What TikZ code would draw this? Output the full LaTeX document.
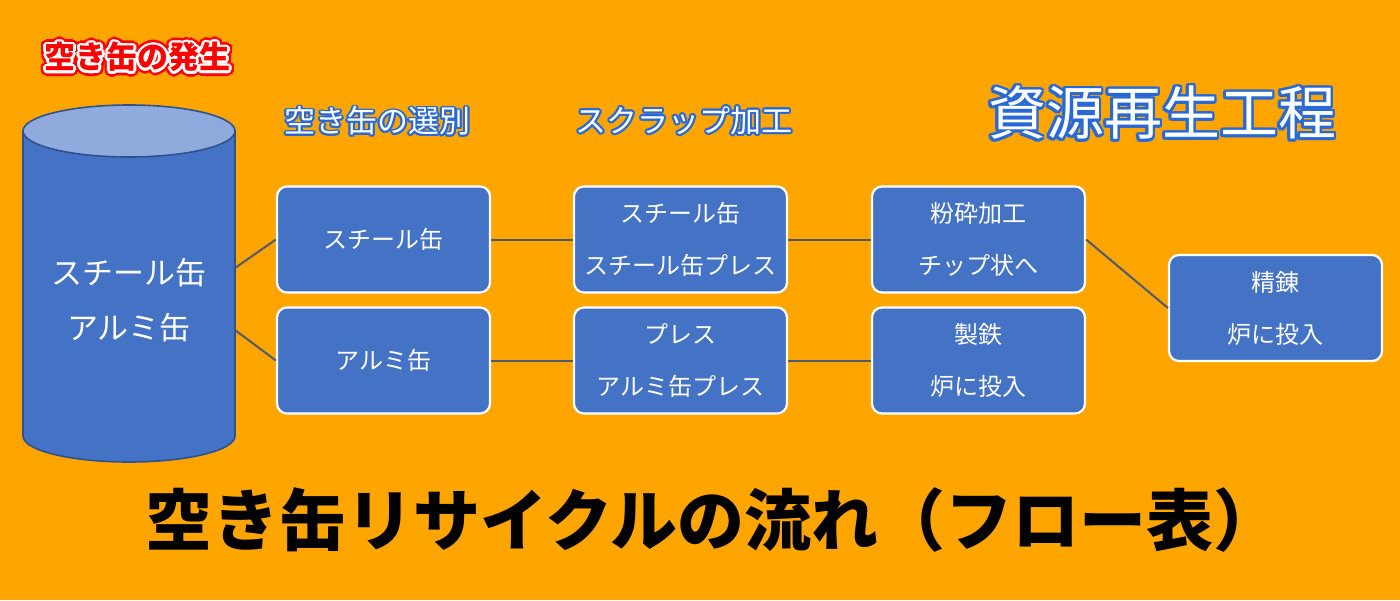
\documentclass[tikz,border=0pt]{standalone}
\usepackage{fontspec}
\newfontfamily\jp{Noto Sans CJK JP}
\definecolor{bg}{RGB}{255,165,0}
\definecolor{boxblue}{RGB}{68,114,196}
\definecolor{topblue}{RGB}{143,170,220}
\definecolor{edgeblue}{RGB}{47,82,143}
\definecolor{linegray}{RGB}{80,90,108}
\definecolor{hdrblue}{RGB}{40,105,215}
\definecolor{ttlred}{RGB}{255,0,0}
% overlay copies of a text around its position (zero width), giving an outline
\newcommand\oltlayer[3]{{\color{#2}\foreach \olA in {0,22.5,...,337.5}{%
  \pgfmathsetlengthmacro\olX{(#1)*cos(\olA)}%
  \pgfmathsetlengthmacro\olY{(#1)*sin(\olA)}%
  \rlap{\kern\olX\raisebox{\olY}{#3}}}}}
\newcommand\olttext[4]{\oltlayer{#1}{#2}{#4}{\color{#3}#4}}
\begin{document}
\begin{tikzpicture}[x=0.5pt,y=-0.5pt,
  stepbox/.style={draw=white, line width=1.1pt, fill=boxblue, rounded corners=5pt,
    minimum width=106.5pt, minimum height=53pt, text=white, align=center,
    font=\jp\fontsize{12}{26}\selectfont, inner sep=0pt},
  cyltext/.style={text=white, align=center, font=\jp\fontsize{15.5}{27.5}\selectfont, inner sep=0pt},
  link/.style={draw=linegray, line width=1pt},
  hdr/.style={inner sep=0pt, font=\jp\fontsize{15.5}{18}\selectfont},
  bighdr/.style={inner sep=0pt, font=\jp\fontsize{29}{32}\selectfont},
  redttl/.style={inner sep=0pt, font=\jp\bfseries\fontsize{15.5}{18}\selectfont},
  mainttl/.style={inner sep=0pt, text=black, font=\jp\bfseries\fontsize{33.5}{38}\selectfont}]
\fill[bg] (0,0) rectangle (1400,600);
\useasboundingbox (0,0) rectangle (1400,600);
% cylinder
\draw[fill=boxblue, draw=edgeblue, line width=0.8pt] (23,131) -- (23,436)
  arc[start angle=180, end angle=0, x radius=106, y radius=26] -- (235,131) -- cycle;
\draw[fill=topblue, draw=edgeblue, line width=0.8pt] (129,131) ellipse [x radius=106, y radius=26];
\node[cyltext] (cyl) at (129,300) {スチール缶\\アルミ缶};
\coordinate (cylA) at (235,268);
\coordinate (cylB) at (235,330);
% boxes
\node[stepbox] (s1) at (383.5,239.5) {スチール缶};
\node[stepbox] (a1) at (383.5,360.5) {アルミ缶};
\node[stepbox] (s2) at (680.5,239.5) {スチール缶\\スチール缶プレス};
\node[stepbox] (a2) at (680.5,360.5) {プレス\\アルミ缶プレス};
\node[stepbox] (s3) at (978.5,239.5) {粉砕加工\\チップ状へ};
\node[stepbox] (a3) at (978.5,360.5) {製鉄\\炉に投入};
\node[stepbox] (r4) at (1275.5,308) {精錬\\炉に投入};
% links
\draw[link] (cylA) -- (s1.west);
\draw[link] (cylB) -- (a1.west);
\draw[link] (s1) -- (s2);
\draw[link] (a1) -- (a2);
\draw[link] (s2) -- (s3);
\draw[link] (a2) -- (a3);
\draw[link] (s3.east) -- (r4.west);
% headings
\node[redttl] (gen) at (137.5,57) {\oltlayer{2.6pt}{ttlred}{空き缶の発生}\olttext{1.3pt}{white}{ttlred}{空き缶の発生}};
\node[hdr] (h1) at (377.5,121) {\olttext{0.9pt}{hdrblue}{white}{空き缶の選別}};
\node[hdr] (h2) at (684,121) {\olttext{0.9pt}{hdrblue}{white}{スクラップ加工}};
\node[bighdr] (h3) at (1162,113) {\olttext{1.4pt}{hdrblue}{white}{資源再生工程}};
\node[mainttl] (ttl) at (713,520) {空き缶リサイクルの流れ（フロー表）};
\end{tikzpicture}
\end{document}
